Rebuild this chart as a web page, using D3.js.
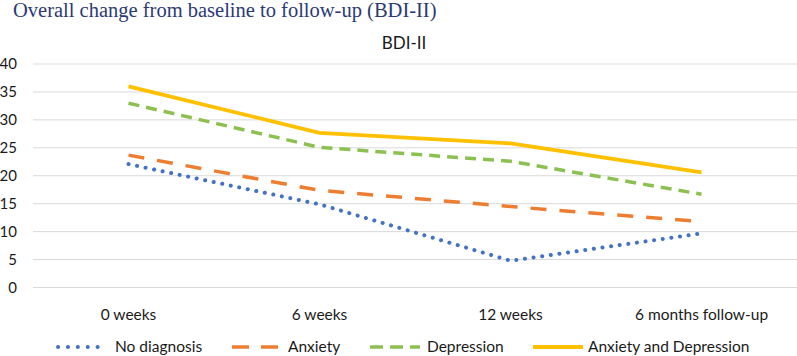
<!DOCTYPE html>
<html>
<head>
    <title>BDI-II</title>
    <script src="https://d3js.org/d3.v7.min.js"></script>
    <style>
        body { margin: 0; background: #fff; }
        svg text { font-family: Lato, "Open Sans", sans-serif; fill: #1a1a1a; }
        .heading { font-family: "Liberation Serif", "Times New Roman", serif !important; fill: #2b3a76 !important; }
        .grid line { stroke: #d9d9d9; stroke-width: 1px; }
    </style>
</head>
<body>
    <div id="chart"></div>
    <script>
        // categories and series (BDI-II scores)
        const timepoints = ["0 weeks", "6 weeks", "12 weeks", "6 months follow-up"];
        const yTicks = [0, 5, 10, 15, 20, 25, 30, 35, 40];
        const noDiagnosis = [22.0, 14.8, 4.7, 9.6];
        const anxiety = [23.6, 17.3, 14.4, 11.7];
        const depression = [32.9, 25.0, 22.5, 16.6];
        const anxietyDepression = [35.9, 27.6, 25.7, 20.5];

        const series = [
            { name: "No diagnosis", values: noDiagnosis, color: "#4472c4", width: 4, dash: "0.1 8.6", cap: "round" },
            { name: "Anxiety", values: anxiety, color: "#ed7d31", width: 3.5, dash: "16 13", cap: "butt" },
            { name: "Depression", values: depression, color: "#8cc152", width: 3.5, dash: "11 7", cap: "butt" },
            { name: "Anxiety and Depression", values: anxietyDepression, color: "#ffc000", width: 3.8, dash: null, cap: "butt" }
        ];

        const width = 797, height = 356;
        const svg = d3.select("#chart").append("svg")
            .attr("width", width)
            .attr("height", height);

        const plotLeft = 33, plotRight = 797, plotTop = 63.5, plotBottom = 287;

        const x = d3.scaleBand().domain(timepoints).range([plotLeft, plotRight]);
        const y = d3.scaleLinear().domain([0, 40]).range([plotBottom, plotTop]);

        // page heading
        svg.append("text")
            .attr("class", "heading")
            .attr("x", 13)
            .attr("y", 17)
            .attr("font-size", 20.5)
            .text("Overall change from baseline to follow-up (BDI-II)");

        // chart title
        svg.append("text")
            .attr("x", 404)
            .attr("y", 49)
            .attr("text-anchor", "middle")
            .attr("font-size", 17)
            .text("BDI-II");

        // gridlines
        svg.append("g").attr("class", "grid")
            .selectAll("line")
            .data(yTicks)
            .join("line")
            .attr("x1", plotLeft).attr("x2", plotRight)
            .attr("y1", d => y(d) + 0.5).attr("y2", d => y(d) + 0.5);

        // y axis
        const yAxis = svg.append("g")
            .attr("transform", `translate(${plotLeft - 16},0)`)
            .call(d3.axisLeft(y).tickValues(yTicks).tickSize(0).tickPadding(0));
        yAxis.select(".domain").remove();
        yAxis.selectAll("text").attr("font-size", 15).attr("font-family", null).attr("dy", "0.35em");

        // x axis
        const xAxis = svg.append("g")
            .attr("transform", `translate(0,${plotBottom})`)
            .call(d3.axisBottom(x).tickSize(0).tickPadding(22));
        xAxis.select(".domain").remove();
        xAxis.selectAll("text").attr("font-size", 15.5).attr("font-family", null);

        // lines
        const line = d3.line()
            .x((d, i) => x(timepoints[i]) + x.bandwidth() / 2)
            .y(d => y(d));

        svg.append("g").selectAll("path")
            .data(series)
            .join("path")
            .attr("fill", "none")
            .attr("stroke", d => d.color)
            .attr("stroke-width", d => d.width)
            .attr("stroke-dasharray", d => d.dash)
            .attr("stroke-linecap", d => d.cap)
            .attr("stroke-linejoin", "round")
            .attr("d", d => line(d.values));

        // legend
        const legendX = [58, 232, 370, 533];
        const legendY = 347;
        const legend = svg.append("g").selectAll("g")
            .data(series)
            .join("g")
            .attr("transform", (d, i) => `translate(${legendX[i]},${legendY})`);

        legend.append("line")
            .attr("x1", 0).attr("x2", (d, i) => i === 0 ? 49 : 50)
            .attr("y1", 0).attr("y2", 0)
            .attr("stroke", d => d.color)
            .attr("stroke-width", d => d.width)
            .attr("stroke-dasharray", (d, i) => i === 0 ? "0.1 9.8" : i === 1 ? "17 12" : i === 2 ? "13 7" : null)
            .attr("stroke-linecap", d => d.cap);

        legend.append("text")
            .attr("x", (d, i) => i === 0 ? 57 : i === 1 ? 56 : i === 2 ? 57 : 55)
            .attr("dy", "0.35em")
            .attr("font-size", 15.5)
            .text(d => d.name);
    </script>
</body>
</html>
